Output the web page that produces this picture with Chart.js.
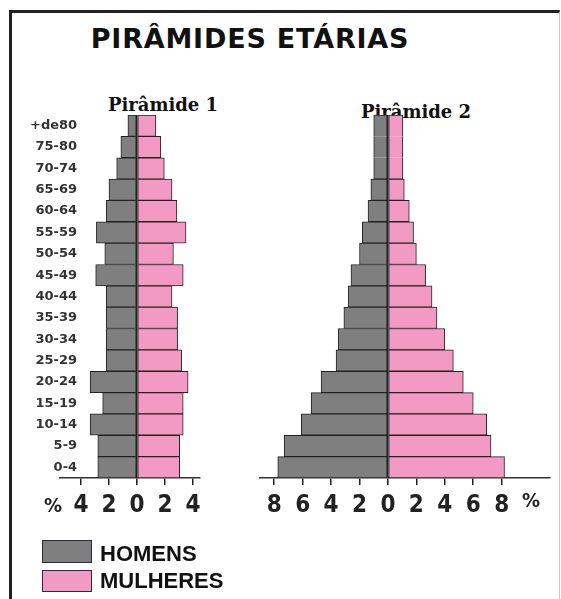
<!DOCTYPE html>
<html><head><meta charset="utf-8">
<script src="https://cdn.jsdelivr.net/npm/chart.js@4/dist/chart.umd.min.js"></script>
<style>
html,body{margin:0;padding:0;background:#fff;}
body{width:561px;height:599px;position:relative;overflow:hidden;}
#frame{position:absolute;left:9px;top:10px;width:547px;height:640px;border-left:3px solid #222;border-top:3px solid #222;border-right:1px solid #c8c8c8;}
.t{position:absolute;white-space:nowrap;line-height:1;transform:translate(-50%,-50%);color:#111;}
.l{position:absolute;white-space:nowrap;line-height:1;transform:translateY(-50%);color:#111;font:bold 22px 'Liberation Sans',Arial,sans-serif;}
#title{left:250px;top:38px;font:bold 27px 'DejaVu Sans',sans-serif;letter-spacing:0.8px;}
.sub{font:bold 18px 'DejaVu Serif',serif;}
.pct{font:bold 20px 'DejaVu Sans Condensed','Liberation Sans',sans-serif;color:#222;}
.box{position:absolute;box-sizing:border-box;border:1.5px solid #2a2a3a;}
canvas{position:absolute;}
</style></head>
<body>
<div id="frame"></div>
<div class="t" id="title">PIRÂMIDES ETÁRIAS</div>
<div class="t sub" style="left:163px;top:104px;">Pirâmide 1</div>
<div class="t sub" style="left:416px;top:111px;">Pirâmide 2</div>
<canvas id="c1" width="220" height="420" style="left:0;top:100px;"></canvas>
<canvas id="c2" width="311" height="420" style="left:250px;top:100px;"></canvas>
<div class="t pct" style="left:53px;top:505px;">%</div>
<div class="t pct" style="left:531px;top:500px;">%</div>
<div class="box" style="left:42px;top:540px;width:50px;height:23px;background:#7f7f7f;"></div>
<div class="box" style="left:42px;top:570px;width:50px;height:22px;background:#f39ac4;"></div>
<div class="l" style="left:100px;top:554px;">HOMENS</div>
<div class="l" style="left:100px;top:581px;">MULHERES</div>
<script>
const categories = ['+de80','75-80','70-74','65-69','60-64','55-59','50-54','45-49','40-44','35-39','30-34','25-29','20-24','15-19','10-14','5-9','0-4'];
const men1   = [0.65, 1.15, 1.45, 2.0, 2.2, 2.9, 2.3, 2.95, 2.2, 2.2, 2.2, 2.2, 3.35, 2.45, 3.35, 2.8, 2.8];
const women1 = [1.35, 1.7, 1.95, 2.5, 2.85, 3.5, 2.6, 3.3, 2.5, 2.9, 2.9, 3.2, 3.65, 3.3, 3.3, 3.05, 3.05];
const men2   = [1.0, 1.0, 1.0, 1.2, 1.4, 1.8, 2.0, 2.6, 2.8, 3.1, 3.5, 3.65, 4.7, 5.4, 6.1, 7.3, 7.75];
const women2 = [1.05, 1.05, 1.05, 1.15, 1.5, 1.8, 2.0, 2.65, 3.1, 3.45, 4.0, 4.6, 5.3, 6.0, 6.95, 7.25, 8.2];
const ticks1 = [-4, -2, 0, 2, 4];
const ticks2 = [-8, -6, -4, -2, 0, 2, 4, 6, 8];

const MEN = '#7f7f7f', WOMEN = '#f39ac4', EDGE = '#222';

function makeChart(id, men, women, xmin, xmax, tickVals, showY, padding, mergeTop) {
  const bw = ctx => {
    if (!mergeTop) return 1;
    const i = ctx.dataIndex;
    if (i === 0) return {top:1, bottom:0, left:1, right:1};
    if (i === 1) return {top:0, bottom:0, left:1, right:1};
    if (i === 2) return {top:0, bottom:1, left:1, right:1};
    return 1;
  };
  const common = {borderColor: EDGE, borderWidth: bw, borderSkipped: false, barPercentage: 1, categoryPercentage: 1};
  return new Chart(document.getElementById(id), {
    type: 'bar',
    data: {
      labels: categories,
      datasets: [
        Object.assign({label: 'HOMENS', data: men.map(v => -v), backgroundColor: MEN}, common),
        Object.assign({label: 'MULHERES', data: women, backgroundColor: WOMEN}, common)
      ]
    },
    options: {
      indexAxis: 'y',
      responsive: false,
      animation: false,
      layout: {padding: padding},
      plugins: {legend: {display: false}, tooltip: {enabled: false}},
      scales: {
        x: {
          type: 'linear', stacked: true, min: xmin, max: xmax, z: 1,
          afterBuildTicks: s => { s.ticks = tickVals.map(v => ({value: v})); },
          afterFit: s => { s.height = 42; },
          ticks: {
            callback: v => String(Math.abs(v)),
            autoSkip: false, maxRotation: 0, padding: 6, color: '#222',
            font: {family: "'DejaVu Sans Condensed','Liberation Sans',sans-serif", size: 24, weight: 'bold'}
          },
          grid: {
            display: true, drawOnChartArea: true, drawTicks: true, tickLength: 7,
            color: c => (c.tick && c.tick.value === 0) ? '#222' : 'rgba(0,0,0,0)',
            tickColor: '#222',
            lineWidth: c => (c.tick && c.tick.value === 0) ? 1.6 : 1.5
          },
          border: {display: true, color: '#333', width: 1.5}
        },
        y: {
          stacked: true,
          display: showY,
          afterFit: s => { s.width = showY ? 60 : 0; },
          grid: {display: false, drawTicks: false},
          border: {display: false},
          ticks: {
            mirror: true, crossAlign: 'far',
            padding: -30, color: '#333', autoSkip: false,
            font: {family: "'DejaVu Sans',sans-serif", size: 13, weight: 'bold'}
          }
        }
      }
    }
  });
}

makeChart('c1', men1, women1, -5.5, 4.5, ticks1, true, {top: 15, right: 20, bottom: 0, left: 0}, false);
makeChart('c2', men2, women2, -9.0, 11.4, ticks2, false, {top: 15, right: 11, bottom: 0, left: 10}, true);
</script>
</body></html>
